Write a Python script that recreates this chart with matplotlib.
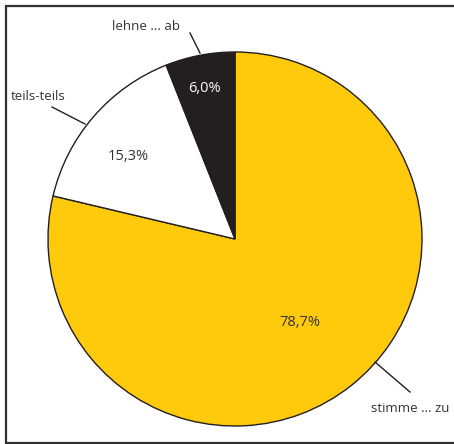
import matplotlib.pyplot as plt
import numpy as np

plt.rcParams['font.family'] = ['Open Sans', 'DejaVu Sans']

categories = ['stimme ... zu', 'teils-teils', 'lehne ... ab']
shares = [78.7, 15.3, 6.0]
pct_labels = ['78,7%', '15,3%', '6,0%']
colors = ['#FFC90C', '#FFFFFF', '#231F20']
pct_colors = ['#333333', '#333333', '#FFFFFF']

W, H = 454, 444
fig = plt.figure(figsize=(W / 100, H / 100), dpi=100)
ax = fig.add_axes([0, 0, 1, 1])

cx, cy, r = 235, H - 239, 187
wedges, _ = ax.pie(shares, colors=colors, startangle=90, counterclock=False,
                   center=(cx, cy), radius=r, frame=True,
                   wedgeprops=dict(edgecolor='#231F20', linewidth=1.0))
ax.set_xlim(0, W)
ax.set_ylim(0, H)
ax.axis('off')

# percentage labels inside the wedges
pct_pos = [(300, 322), (128, 157), (204, 88)]
for (x, y), txt, c in zip(pct_pos, pct_labels, pct_colors):
    ax.text(x, H - y, txt, ha='center', va='center', fontsize=10.5, color=c)

# outside labels with leader lines
label_pos = [(410, 409), (38, 97), (146, 27)]
line_pos = [((375, 362), (410, 392)), ((85, 124), (52, 107)), ((200, 53), (190, 33))]
for (lx, ly), name, (p0, p1) in zip(label_pos, categories, line_pos):
    ax.text(lx, H - ly, name, ha='center', va='center', fontsize=9.5, color='#333333')
    ax.plot([p0[0], p1[0]], [H - p0[1], H - p1[1]], color='#231F20', lw=1.0)

# frame (right side open)
ax.plot([460, 6, 6, 460], [H - 6, H - 6, H - 443, H - 443], color='#333333', lw=1.6,
        solid_joinstyle='miter')

fig.savefig('out.png', dpi=100)
